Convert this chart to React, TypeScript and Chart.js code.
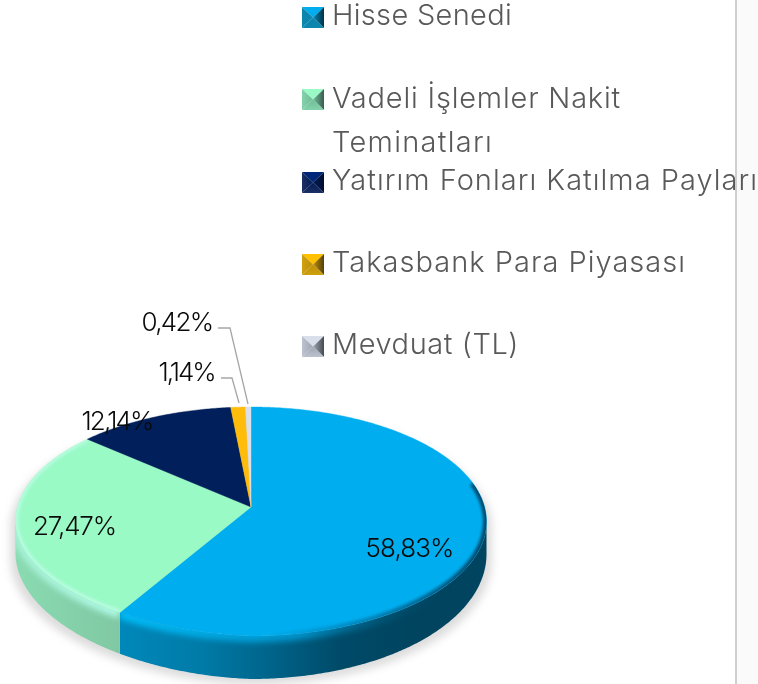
import React, { useEffect, useRef } from "react";
import { Chart, registerables } from "chart.js";

Chart.register(...registerables);

const categories = ["Hisse Senedi", "Vadeli İşlemler Nakit Teminatları", "Yatırım Fonları Katılma Payları", "Takasbank Para Piyasası", "Mevduat (TL)"];
const legendLines = [["Hisse Senedi"], ["Vadeli İşlemler Nakit", "Teminatları"], ["Yatırım Fonları Katılma Payları"], ["Takasbank Para Piyasası"], ["Mevduat (TL)"]];
const values = [58.83, 27.47, 12.14, 1.14, 0.42];
const colors = ["#00AEEF", "#99FAC6", "#001F5B", "#FFBC0A", "#D9E0EC"];
const swatchTones = [
  ["#00AEEF", "#0A86B0", "#00324A", "#0E86AE"],
  ["#99FAC6", "#6FBD97", "#3A5C50", "#84D2AB"],
  ["#00267A", "#001B55", "#000F2E", "#1B2F63"],
  ["#FFC000", "#BE8F08", "#54400A", "#CFA00E"],
  ["#D9E0EC", "#A0A7B2", "#454951", "#BCC3CE"],
];
const labelAnchors = [[409.5, 557], [74.5, 535], [117, 430], [186.5, 381], [177, 331]];
const labelWidths = [88, 83, 71, 56, 71];
const leaderLines = [null, null, null, [[221, 378], [232, 378], [239, 403]], [[218, 328], [230, 328], [248, 404]]];
const legendBaselines = [[25], [108, 152], [190], [272], [354]];
const legendWidths = [[180], [289, 161], [426], [354], [187]];
const swatchTops = [7, 89, 172, 254, 336];

const CX = 251, CY = 507, K = 0.1266, A = 112.66, B = 233.6;
const FRONT_A = Math.asin(K), FRONT_B = Math.PI - Math.asin(K);
const proj = (t0: number) => {
  // the reference's view squeezes the lower-left quadrant a little
  const inQuad = t0 > Math.PI / 2 && t0 < Math.PI;
  const bend = inQuad ? Math.sin(2 * (t0 - Math.PI / 2)) : 0;
  const t = t0 - 0.035 * bend;
  const x = Math.cos(t), y = Math.sin(t), w = 1 - K * y;
  return [CX + (B * x) / w, CY + (A * y) / w - 4.5 * bend];
};
const wallDepth = (t: number) => 31 + 12 * Math.sin(t);
const rimPath = (ctx: any, a: number, b: number, wall = 0, extra = 0, move = true) => {
  const n = Math.max(2, Math.ceil(Math.abs(b - a) / 0.01));
  for (let i = 0; i <= n; i++) {
    const t = a + ((b - a) * i) / n;
    const [x, y] = proj(t);
    const dy = wall * wallDepth(t) + extra;
    if (i === 0 && move) ctx.moveTo(x, y + dy);
    else ctx.lineTo(x, y + dy);
  }
};
const hGrad = (ctx: any, stops: [number, string][]) => {
  const g = ctx.createLinearGradient(0, 0, 758, 0);
  stops.forEach(([x, c]) => g.addColorStop(x / 758, c));
  return g;
};
const fitText = (ctx: any, text: string, x: number, y: number, width: number) => {
  ctx.letterSpacing = "0px";
  const natural = ctx.measureText(text).width;
  ctx.letterSpacing = (width - natural) / text.length + "px";
  ctx.fillText(text, x, y);
};

const pie3d = {
  id: "pie3d",
  beforeDraw(chart: any) {
    const ctx = chart.ctx;
    ctx.save();
    ctx.fillStyle = "#FFFFFF";
    ctx.fillRect(0, 0, 758, 684);
    ctx.fillStyle = "#FAFAFA";
    ctx.fillRect(737, 0, 21, 684);
    ctx.fillStyle = "#CFCFCF";
    ctx.fillRect(735, 0, 2, 684);
    ctx.restore();
  },
  beforeDatasetsDraw(chart: any) {
    const ctx = chart.ctx;
    const arcs = chart.getDatasetMeta(0).data;
    ctx.save();
    // ground shadow
    ctx.save();
    ctx.filter = "blur(4px)";
    ctx.fillStyle = "#DCDCDC";
    ctx.translate(251, 560);
    ctx.scale(1.022, 1);
    ctx.translate(-251, -560);
    ctx.beginPath();
    rimPath(ctx, FRONT_A, FRONT_B, 1, 6);
    rimPath(ctx, FRONT_B, FRONT_A + 2 * Math.PI, 0, 6, false);
    ctx.closePath();
    ctx.fill();
    ctx.restore();

    // side walls
    arcs.forEach((arc: any, i: number) => {
      const a = Math.max(arc.startAngle, FRONT_A), b = Math.min(arc.endAngle, FRONT_B);
      if (b <= a) return;
      ctx.beginPath();
      rimPath(ctx, a, b);
      rimPath(ctx, b, a, 1, 0, false);
      ctx.closePath();
      ctx.fillStyle = i === 0
        ? hGrad(ctx, [[118, "#0088BA"], [200, "#007BA8"], [270, "#00648A"], [340, "#004A68"], [420, "#00445F"], [490, "#00445F"]])
        : hGrad(ctx, [[15, "#8ADBB2"], [120, "#80C8A3"]]);
      ctx.fill();
      // soft light along the top of the wall, kept inside the wall
      ctx.save();
      ctx.clip();
      ctx.filter = "blur(3px)";
      ctx.lineWidth = 10;
      ctx.beginPath();
      rimPath(ctx, a, b, 0, 1);
      ctx.strokeStyle = i === 0
        ? hGrad(ctx, [[118, "rgba(0,190,250,1)"], [300, "rgba(0,165,225,.8)"], [400, "rgba(0,110,150,.2)"], [450, "rgba(0,100,140,0)"]])
        : hGrad(ctx, [[15, "rgba(175,248,225,.8)"], [120, "rgba(175,250,230,1)"]]);
      ctx.stroke();
      ctx.restore();
    });

    // top faces
    arcs.forEach((arc: any, i: number) => {
      ctx.beginPath();
      ctx.moveTo(CX, CY);
      rimPath(ctx, arc.startAngle, arc.endAngle, 0, 0, false);
      ctx.closePath();
      ctx.fillStyle = colors[i];
      ctx.fill();
      ctx.strokeStyle = colors[i];
      ctx.lineWidth = 0.4;
      ctx.stroke();
      if (i < 2) {
        ctx.save();
        ctx.clip();
        ctx.filter = "blur(1.5px)";
        ctx.lineWidth = i === 0 ? 7 : 6;
        ctx.beginPath();
        if (i === 0) rimPath(ctx, Math.max(arc.startAngle, -0.22), arc.endAngle);
        else rimPath(ctx, arc.startAngle, arc.endAngle);
        ctx.strokeStyle = i === 0
          ? hGrad(ctx, [[270, "rgba(0,70,105,0)"], [380, "rgba(0,70,105,.45)"], [480, "rgba(0,70,105,.95)"]])
          : "rgba(185,252,225,.9)";
        ctx.stroke();
        ctx.restore();
      }
    });
    ctx.restore();
    return false;
  },
  afterDraw(chart: any) {
    const ctx = chart.ctx;
    ctx.save();
    // leader lines
    ctx.strokeStyle = "#A6A6A6";
    ctx.lineWidth = 1.3;
    leaderLines.forEach((pts) => {
      if (!pts) return;
      ctx.beginPath();
      pts.forEach(([x, y], j) => (j ? ctx.lineTo(x, y) : ctx.moveTo(x, y)));
      ctx.stroke();
    });
    // value labels
    ctx.fillStyle = "#0A0A0A";
    ctx.font = '300 26px Inter, "Open Sans", sans-serif';
    ctx.textAlign = "left";
    ctx.textBaseline = "alphabetic";
    values.forEach((v, i) => {
      const [x, y] = labelAnchors[i];
      fitText(ctx, v.toFixed(2).replace(".", ",") + "%", x - labelWidths[i] / 2, y, labelWidths[i]);
    });
    // legend
    ctx.font = '300 29px Inter, "Open Sans", sans-serif';
    categories.forEach((_, i) => {
      const L = 302, T = swatchTops[i], S = 22, H = 21;
      const mx = L + S / 2, my = T + H / 2;
      const tri = (pts: number[][], c: any) => {
        ctx.beginPath();
        ctx.moveTo(pts[0][0], pts[0][1]);
        ctx.lineTo(pts[1][0], pts[1][1]);
        ctx.lineTo(pts[2][0], pts[2][1]);
        ctx.closePath();
        ctx.fillStyle = c;
        ctx.fill();
      };
      const tones = swatchTones[i];
      const fade = (x0: number, y0: number, c0: string, c1: string) => {
        const g = ctx.createLinearGradient(x0, y0, mx, my);
        g.addColorStop(0, c0);
        g.addColorStop(1, c1);
        return g;
      };
      tri([[L, T], [L + S, T], [mx, my]], fade(mx, T, tones[0], tones[0]));
      tri([[L, T], [L, T + H], [mx, my]], fade(L, my, tones[3], tones[1]));
      tri([[L + S, T], [L + S, T + H], [mx, my]], fade(L + S, my, tones[2], tones[1]));
      tri([[L, T + H], [L + S, T + H], [mx, my]], fade(mx, T + H, tones[3], tones[1]));
      ctx.fillStyle = "#595959";
      legendLines[i].forEach((line, j) => fitText(ctx, line, 332, legendBaselines[i][j], legendWidths[i][j]));
    });
    ctx.restore();
  },
};

export default function App() {
  const ref = useRef<HTMLCanvasElement>(null);
  useEffect(() => {
    const chart = new Chart(ref.current as HTMLCanvasElement, {
      type: "pie",
      data: {
        labels: categories,
        datasets: [{ data: values, backgroundColor: colors, borderWidth: 0 }],
      },
      options: {
        animation: false,
        responsive: false,
        events: [],
        plugins: { legend: { display: false }, tooltip: { enabled: false } },
      },
      plugins: [pie3d],
    } as any);
    return () => chart.destroy();
  }, []);
  return (
    <div style={{ position: "absolute", left: 0, top: 0, width: 758, height: 684, overflow: "hidden" }}>
      <canvas ref={ref} width={758} height={684} style={{ display: "block" }} />
    </div>
  );
}
